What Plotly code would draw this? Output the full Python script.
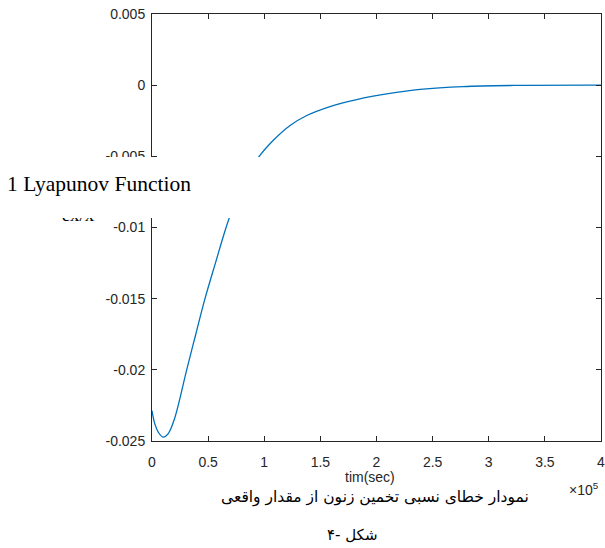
import plotly.graph_objects as go

# time in seconds, relative error ex/x
time_s = [0, 2500, 5600, 9800, 14300, 20000, 30900, 39000, 47200, 56500, 66000,
          75000, 85000, 94800, 108100, 123000, 137900, 158600, 182400,
          212000, 238900, 277000, 322000, 400000]
rel_err = [-0.02287, -0.0238, -0.02438, -0.02473, -0.0245, -0.02345, -0.0200,
           -0.0175, -0.0150, -0.0125, -0.0100, -0.0080, -0.0064,
           -0.00508, -0.00387, -0.00283, -0.00213, -0.0015, -0.00101, -0.00058,
           -0.0003, -0.0001, -0.00002, 0.0]

x_tickvals = [0, 50000, 100000, 150000, 200000, 250000, 300000, 350000, 400000]
x_ticktext = ["0", "0.5", "1", "1.5", "2", "2.5", "3", "3.5", "4"]
y_tickvals = [0.005, 0, -0.005, -0.01, -0.015, -0.02, -0.025]
y_ticktext = ["0.005", "0", "-0.005", "-0.01", "-0.015", "-0.02", "-0.025"]

W, H = 605, 548
axis_color = "#262626"
sans = "Liberation Sans, Arial, sans-serif"
serif = "Liberation Serif, Times New Roman, serif"
tick_font = dict(family=sans, size=14, color=axis_color)

fig = go.Figure()
fig.add_trace(go.Scatter(
    x=time_s, y=rel_err, mode="lines",
    line=dict(color="#0072BD", width=1.3, shape="spline", smoothing=1.0),
    showlegend=False, hoverinfo="skip"))

# y-label fragment, partly hidden under the white box (trace text, so the box covers it)
fig.add_trace(go.Scatter(
    x=[78], y=[216], xaxis="x2", yaxis="y2", mode="text", text=["ex/x"],
    textfont=dict(family=serif, size=19, color="black"),
    showlegend=False, hoverinfo="skip"))

fig.update_layout(
    width=W, height=H,
    margin=dict(l=0, r=0, t=0, b=0),
    paper_bgcolor="white", plot_bgcolor="rgba(0,0,0,0)",
    xaxis=dict(domain=[152 / W, 601 / W], range=[0, 400000],
               tickvals=x_tickvals, ticktext=x_ticktext, automargin=False,
               ticklabeloverflow="allow",
               showgrid=False, zeroline=False, showline=True, mirror="ticks",
               linecolor=axis_color, linewidth=1, ticks="inside", ticklen=5,
               tickcolor=axis_color, tickfont=tick_font, ticklabelstandoff=8),
    yaxis=dict(domain=[(H - 441) / H, (H - 14) / H], range=[-0.025, 0.005],
               tickvals=y_tickvals, ticktext=y_ticktext, automargin=False,
               ticklabeloverflow="allow",
               showgrid=False, zeroline=False, showline=True, mirror="ticks",
               linecolor=axis_color, linewidth=1, ticks="inside", ticklen=5,
               tickcolor=axis_color, tickfont=tick_font, ticklabelstandoff=3),
    xaxis2=dict(domain=[0, 1], range=[0, W], visible=False, anchor="y2"),
    yaxis2=dict(domain=[0, 1], range=[H, 0], visible=False, anchor="x2"),
    shapes=[dict(type="rect", xref="paper", yref="paper",
                 x0=0, x1=262 / W, y0=(H - 218) / H, y1=(H - 157) / H,
                 fillcolor="white", line=dict(width=0), layer="above")],
    annotations=[
        dict(text="1 Lyapunov Function", xref="paper", yref="paper",
             x=5 / W, y=(H - 184) / H, xanchor="left", yanchor="middle", showarrow=False,
             font=dict(family=serif, size=21.5, color="black")),
        dict(text="×10<sup>5</sup>", xref="paper", yref="paper",
             x=601 / W, y=(H - 489) / H, xanchor="right", yanchor="middle", showarrow=False,
             font=dict(family=sans, size=14, color=axis_color)),
        dict(text="tim(sec)", xref="paper", yref="paper",
             x=370 / W, y=(H - 477) / H, xanchor="center", yanchor="middle", showarrow=False,
             font=dict(family=sans, size=14, color=axis_color)),
        dict(text="نمودار خطای نسبی تخمین زنون از مقدار واقعی", xref="paper", yref="paper",
             x=375 / W, y=(H - 498) / H, xanchor="center", yanchor="middle", showarrow=False,
             font=dict(family="DejaVu Sans, sans-serif", size=15.5, color="black")),
        dict(text="شکل -۴", xref="paper", yref="paper",
             x=352 / W, y=(H - 535) / H, xanchor="center", yanchor="middle", showarrow=False,
             font=dict(family="DejaVu Sans, sans-serif", size=15, color="black")),
    ],
)

fig.write_html("out.html", config={"displayModeBar": False},
               post_script="document.body.style.margin='0';document.body.style.overflow='hidden';")
